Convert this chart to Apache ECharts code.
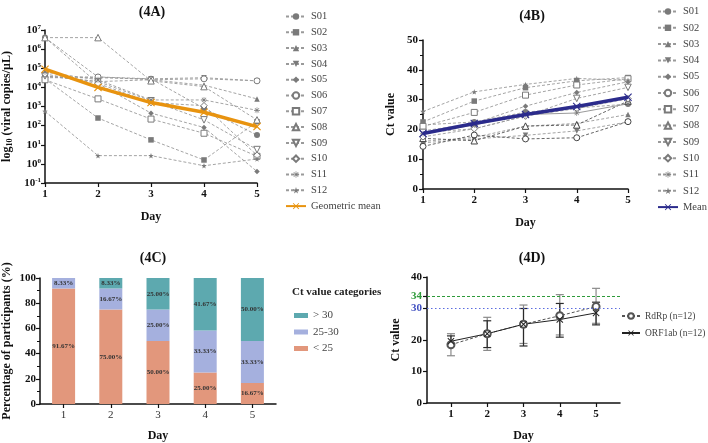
<!DOCTYPE html>
<html><head><meta charset="utf-8">
<script src="https://cdn.jsdelivr.net/npm/echarts@6/dist/echarts.min.js"></script>
<style>html,body{margin:0;padding:0;background:#fff}#c{width:708px;height:443px}</style>
</head><body><div id="c"></div>
<script>
// ---------- data ----------
const days = ['1','2','3','4','5'];
const dayNums = [1,2,3,4,5];
const subjects = ['S01','S02','S03','S04','S05','S06','S07','S08','S09','S10','S11','S12'];
// 4A viral copies/uL
const vS01 = [4.0e6, 3.5e4, 2.8e4, 8.0e2, 32];
const vS02 = [2.8e4, 250, 18, 1.6, 160];
const vS03 = [4.0e4, 2.0e4, 2.5e4, 1.3e4, 2.5e3];
const vS04 = [3.2e4, 3.2e4, 2.8e4, 3.2e4, 2.2e4];
const vS05 = [4.0e6, 1.6e4, 450, 80, 0.4];
const vS06 = [3.5e4, 3.5e4, 2.5e4, 2.8e4, 2.2e4];
const vS07 = [2.5e4, 2.5e3, 220, 40, 2.5];
const vS08 = [4.0e6, 4.0e6, 2.2e4, 1.1e4, 200];
const vS09 = [4.0e4, 2.0e4, 2.0e3, 200, 5.6];
const vS10 = [5.0e4, 1.6e4, 1.6e3, 1.1e3, 2.8];
const vS11 = [6.3e4, 2.5e4, 2.2e3, 2.2e3, 630];
const vS12 = [560, 2.7, 2.7, 0.8, 1.8];
const vGeoMean = [8.9e4, 1.0e4, 1.6e3, 5.0e2, 89];
// 4B Ct values
const cS01 = [21.5, 22.5, 25.8, 27.2, 28.5];
const cS02 = [22.5, 29.5, 34.0, 36.3, 37.4];
const cS03 = [16.0, 17.3, 21.1, 22.0, 25.0];
const cS04 = [15.5, 16.8, 18.0, 19.5, 22.5];
const cS05 = [19.5, 22.0, 27.8, 32.4, 36.0];
const cS06 = [14.3, 18.1, 16.8, 17.2, 22.6];
const cS07 = [21.0, 25.7, 31.5, 34.9, 37.0];
const cS08 = [17.0, 16.2, 21.1, 21.5, 29.5];
const cS09 = [19.0, 20.2, 24.5, 30.4, 34.1];
const cS10 = [17.5, 20.2, 24.5, 27.0, 30.3];
const cS11 = [18.5, 21.5, 25.0, 25.5, 28.6];
const cS12 = [26.0, 32.6, 35.1, 37.1, 36.5];
const cMean = [18.6, 22.0, 25.0, 27.7, 30.8];
// 4C percentages
const catNames = ['> 30', '25-30', '< 25'];
const pctLt25 = [91.67, 75.00, 50.00, 25.00, 16.67];
const pct2530 = [8.33, 16.67, 25.00, 33.33, 33.33];
const pctGt30 = [0, 8.33, 25.00, 41.67, 50.00];
// 4D mean Ct and error bars
const rdrpMean = [18.5, 22.0, 25.0, 27.7, 30.6];
const rdrpLow  = [15.0, 16.7, 18.9, 21.6, 25.3];
const rdrpHigh = [22.0, 27.2, 31.1, 34.4, 36.4];
const orfMean  = [19.6, 22.0, 25.0, 26.5, 28.6];
const orfLow   = [18.0, 17.6, 18.1, 20.9, 24.8];
const orfHigh  = [21.3, 26.1, 30.0, 31.6, 32.0];
const yTicksD = [0, 10, 20, 30, 34, 40];

// ---------- style ----------
const FF = '"Liberation Serif","Times New Roman",serif';
const triDown = 'path://M0,0 L10,0 L5,9 Z';
const star = 'path://M5,0 L6.2,3.5 L10,3.6 L7,5.9 L8.1,9.5 L5,7.4 L1.9,9.5 L3,5.9 L0,3.6 L3.8,3.5 Z';
const aster = 'path://M4.5,0 h1 v3.8 l2.7,-2.7 0.7,0.7 -2.7,2.7 h3.8 v1 h-3.8 l2.7,2.7 -0.7,0.7 -2.7,-2.7 v3.8 h-1 v-3.8 l-2.7,2.7 -0.7,-0.7 2.7,-2.7 h-3.8 v-1 h3.8 l-2.7,-2.7 0.7,-0.7 2.7,2.7 z';
const xMark = 'path://M0,1 L1,0 L5,4 L9,0 L10,1 L6,5 L10,9 L9,10 L5,6 L1,10 L0,9 L4,5 Z';
const G = '#7a7a7a';
const symDefs = [
  ['circle',true,6],['rect',true,5.5],['triangle',true,5.5],[triDown,true,5.5],['diamond',true,5.5],
  ['circle',false,6],['rect',false,6],['triangle',false,6.5],[triDown,false,6.5],['diamond',false,6.5],
  [aster,true,6],[star,true,5.5]
];
const aData = [vS01,vS02,vS03,vS04,vS05,vS06,vS07,vS08,vS09,vS10,vS11,vS12];
const bData = [cS01,cS02,cS03,cS04,cS05,cS06,cS07,cS08,cS09,cS10,cS11,cS12];

function subjSeries(idx, data, xi, yi, dark, solid) {
  const d = symDefs[idx];
  const col = dark ? '#444' : G;
  return {
    type:'line', name: subjects[idx], xAxisIndex:xi, yAxisIndex:yi, data: data,
    symbol: d[0], symbolSize: d[2], showSymbol:true, z:3,
    itemStyle: d[1] ? {color:col, borderWidth:0} : {color:'#fff', borderColor:col, borderWidth:1},
    lineStyle: {color: dark ? '#555' : '#9a9a9a', width: solid ? 1 : 0.9, type: solid ? 'solid' : [3,2]},
    emphasis:{disabled:true}
  };
}

const axisLine = {show:true, lineStyle:{color:'#111', width:1.5}};
const tickOut = {show:true, inside:false, length:4, lineStyle:{color:'#111', width:1.2}};
const labelBold = {fontFamily:FF, fontWeight:'bold', fontSize:11, color:'#111'};

const series = [];
aData.forEach((d,i)=>series.push(subjSeries(i,d,0,0,false,false)));
series.push({type:'line', name:'Geometric mean', xAxisIndex:0, yAxisIndex:0, data:vGeoMean, z:5,
  symbol:xMark, symbolSize:8, itemStyle:{color:'#E8930F'}, lineStyle:{color:'#E8930F', width:3.5}});
bData.forEach((d,i)=>series.push(subjSeries(i,d,1,1,(i===5||i===7), i===10)));
series.push({type:'line', name:'Mean', xAxisIndex:1, yAxisIndex:1, data:cMean, z:5,
  symbol:xMark, symbolSize:8, itemStyle:{color:'#2B2B8C'}, lineStyle:{color:'#2B2B8C', width:3.5}});

const barLabel = {show:true, position:'inside', fontFamily:FF, fontWeight:'bold', fontSize:7, color:'#333',
  formatter: p => p.value > 0 ? p.value.toFixed(2) + '%' : ''};
series.push({type:'bar', name:'< 25', stack:'c', xAxisIndex:2, yAxisIndex:2, data:pctLt25, barWidth:23,
  itemStyle:{color:'#E2977C'}, label:barLabel});
series.push({type:'bar', name:'25-30', stack:'c', xAxisIndex:2, yAxisIndex:2, data:pct2530, barWidth:23,
  itemStyle:{color:'#A5B0DE'}, label:barLabel});
series.push({type:'bar', name:'> 30', stack:'c', xAxisIndex:2, yAxisIndex:2, data:pctGt30, barWidth:23,
  itemStyle:{color:'#5DA9AF'}, label:barLabel});

function errSeries(lo, hi, col) {
  return {type:'custom', xAxisIndex:3, yAxisIndex:3, z:2, silent:true,
    data: dayNums.map((d,i)=>[d, lo[i], hi[i]]),
    encode:{x:0, y:[1,2]},
    renderItem:(params, api)=>{
      const x = api.value(0);
      const p1 = api.coord([x, api.value(1)]);
      const p2 = api.coord([x, api.value(2)]);
      const st = {stroke:col, lineWidth:1.2};
      return {type:'group', children:[
        {type:'line', shape:{x1:p1[0],y1:p1[1],x2:p2[0],y2:p2[1]}, style:st},
        {type:'line', shape:{x1:p1[0]-4,y1:p1[1],x2:p1[0]+4,y2:p1[1]}, style:st},
        {type:'line', shape:{x1:p2[0]-4,y1:p2[1],x2:p2[0]+4,y2:p2[1]}, style:st}
      ]};
    }};
}
series.push(errSeries(rdrpLow, rdrpHigh, '#8a8a8a'));
series.push(errSeries(orfLow, orfHigh, '#2a2a2a'));
series.push({type:'line', name:'RdRp (n=12)', xAxisIndex:3, yAxisIndex:3, z:4,
  data: dayNums.map((d,i)=>[d, rdrpMean[i]]), symbol:'emptyCircle', symbolSize:7,
  itemStyle:{color:'#555', borderWidth:1}, lineStyle:{color:'#555', width:1, type:[3,2]},
  markLine:{silent:true, symbol:'none', label:{show:false},
    data:[{yAxis:34, lineStyle:{color:'#2E9A3A', type:[3,2], width:1}},
          {yAxis:30, lineStyle:{color:'#5A6CE0', type:[1.5,2.5], width:1.2}}]}});
series.push({type:'line', name:'ORF1ab (n=12)', xAxisIndex:3, yAxisIndex:3, z:4,
  data: dayNums.map((d,i)=>[d, orfMean[i]]), symbol:xMark, symbolSize:7,
  itemStyle:{color:'#222'}, lineStyle:{color:'#222', width:1}});

const legendText = {fontFamily:FF, fontSize:10.5, color:'#444', lineHeight:10};
const titleStyle = {fontFamily:FF, fontWeight:'bold', fontSize:14, color:'#111'};

const option = {
  animation:false,
  backgroundColor:'#fff',
  title:[
    {text:'(4A)', left:152, top:5, padding:0, textAlign:'center', textStyle:titleStyle},
    {text:'(4B)', left:532, top:9, padding:0, textAlign:'center', textStyle:titleStyle},
    {text:'(4C)', left:153, top:251, padding:0, textAlign:'center', textStyle:titleStyle},
    {text:'(4D)', left:532, top:251, padding:0, textAlign:'center', textStyle:titleStyle}
  ],
  grid:[
    {left:43, top:30, width:214, height:153},
    {left:423, top:40, width:205, height:149},
    {left:40, top:278, width:236, height:132},
    {left:427, top:277, width:193, height:128}
  ],
  xAxis:[
    {type:'category', gridIndex:0, data:days, boundaryGap:false, axisLine:axisLine, axisTick:tickOut,
     axisLabel:Object.assign({margin:6}, labelBold), name:'Day', nameLocation:'middle', nameGap:28,
     nameTextStyle:{fontFamily:FF, fontWeight:'bold', fontSize:12, color:'#111'}},
    {type:'category', gridIndex:1, data:days, boundaryGap:false, axisLine:axisLine, axisTick:tickOut,
     axisLabel:Object.assign({margin:6}, labelBold), name:'Day', nameLocation:'middle', nameGap:28,
     nameTextStyle:{fontFamily:FF, fontWeight:'bold', fontSize:12, color:'#111'}},
    {type:'category', gridIndex:2, data:days, boundaryGap:true, axisLine:axisLine,
     axisTick:{show:true, alignWithLabel:true, length:4, lineStyle:{color:'#111', width:1.2}},
     axisLabel:{fontFamily:FF, fontSize:11, color:'#333', margin:6}, name:'Day', nameLocation:'middle', nameGap:26,
     nameTextStyle:{fontFamily:FF, fontWeight:'bold', fontSize:12, color:'#111'}},
    {type:'value', gridIndex:3, min:0.34, max:5.66, splitLine:{show:false}, axisLine:axisLine,
     axisTick:{show:true, length:4, customValues:dayNums, lineStyle:{color:'#111', width:1.2}},
     axisLabel:Object.assign({margin:6, customValues:dayNums}, labelBold), name:'Day', nameLocation:'middle', nameGap:27,
     nameTextStyle:{fontFamily:FF, fontWeight:'bold', fontSize:12, color:'#111'}}
  ],
  yAxis:[
    {type:'log', gridIndex:0, logBase:10, min:0.1, max:1e7, splitNumber:8, splitLine:{show:false},
     axisLine:axisLine, axisTick:tickOut,
     axisLabel:{margin:4, formatter: v => '{b|10}{s|' + Math.round(Math.log10(v)) + '}',
       rich:{b:{fontFamily:FF, fontWeight:'bold', fontSize:11, color:'#111'},
             s:{fontFamily:FF, fontWeight:'bold', fontSize:7, color:'#111', verticalAlign:'bottom', padding:[0,0,6,0]}}},
     name:'{a|log}{s|10}{a| (viral copies/μL)}', nameLocation:'middle', nameGap:31, nameRotate:90,
     nameTextStyle:{rich:{a:{fontFamily:FF, fontWeight:'bold', fontSize:12, color:'#111'},
       s:{fontFamily:FF, fontWeight:'bold', fontSize:8, color:'#111', padding:[6,0,0,0]}}}},
    {type:'value', gridIndex:1, min:0, max:50, interval:10, splitLine:{show:false}, axisLine:axisLine, axisTick:tickOut,
     minorTick:{show:true, splitNumber:2, length:3, lineStyle:{color:'#111'}},
     axisLabel:Object.assign({margin:5}, labelBold), name:'Ct value', nameLocation:'middle', nameGap:26,
     nameTextStyle:{fontFamily:FF, fontWeight:'bold', fontSize:12, color:'#111'}},
    {type:'value', gridIndex:2, min:0, max:100, interval:20, splitLine:{show:false}, axisLine:axisLine, axisTick:tickOut,
     minorTick:{show:true, splitNumber:2, length:3, lineStyle:{color:'#111'}},
     axisLabel:Object.assign({margin:4}, labelBold), name:'Percentage of participants (%)', nameLocation:'middle', nameGap:27,
     nameTextStyle:{fontFamily:FF, fontWeight:'bold', fontSize:12, color:'#111'}},
    {type:'value', gridIndex:3, min:0, max:40, splitLine:{show:false}, axisLine:axisLine,
     axisTick:{show:true, length:4, customValues:yTicksD, lineStyle:{color:'#111', width:1.2}},
     axisLabel:{margin:5, customValues:yTicksD,
       formatter: v => v===34 ? '{g|34}' : (v===30 ? '{u|30}' : '{n|' + v + '}'),
       rich:{n:{fontFamily:FF, fontWeight:'bold', fontSize:11, color:'#111'},
             g:{fontFamily:FF, fontWeight:'bold', fontSize:11, color:'#2E9A3A'},
             u:{fontFamily:FF, fontWeight:'bold', fontSize:11, color:'#3F4FC0'}}},
     name:'Ct value', nameLocation:'middle', nameGap:25,
     nameTextStyle:{fontFamily:FF, fontWeight:'bold', fontSize:12, color:'#111'}}
  ],
  legend:[
    {orient:'vertical', left:285, top:11, padding:0, itemWidth:20, itemHeight:8, itemGap:4.8,
     data: subjects.concat(['Geometric mean']), textStyle:legendText, selectedMode:false},
    {orient:'vertical', left:657, top:6, padding:0, itemWidth:20, itemHeight:8, itemGap:5.3,
     data: subjects.concat(['Mean']), textStyle:legendText, selectedMode:false},
    {orient:'vertical', left:294, top:310, padding:0, itemWidth:14, itemHeight:5, itemGap:5.5,
     data: catNames.map(n=>({name:n, icon:'rect'})), textStyle:{fontFamily:FF, fontSize:11, color:'#444', lineHeight:10}, selectedMode:false},
    {orient:'vertical', left:621, top:311, padding:0, itemWidth:18, itemHeight:7, itemGap:7,
     data:['RdRp (n=12)','ORF1ab (n=12)'], textStyle:{fontFamily:FF, fontSize:9.5, color:'#444', lineHeight:10}, selectedMode:false}
  ],
  graphic:[
    {type:'text', left:292, top:287, style:{text:'Ct value categories', font:'bold 11px "Liberation Serif","Times New Roman",serif', fill:'#222'}}
  ],
  series: series
};
const chart = echarts.init(document.getElementById('c'), null, {renderer:'canvas'});
chart.setOption(option);
</script></body></html>
